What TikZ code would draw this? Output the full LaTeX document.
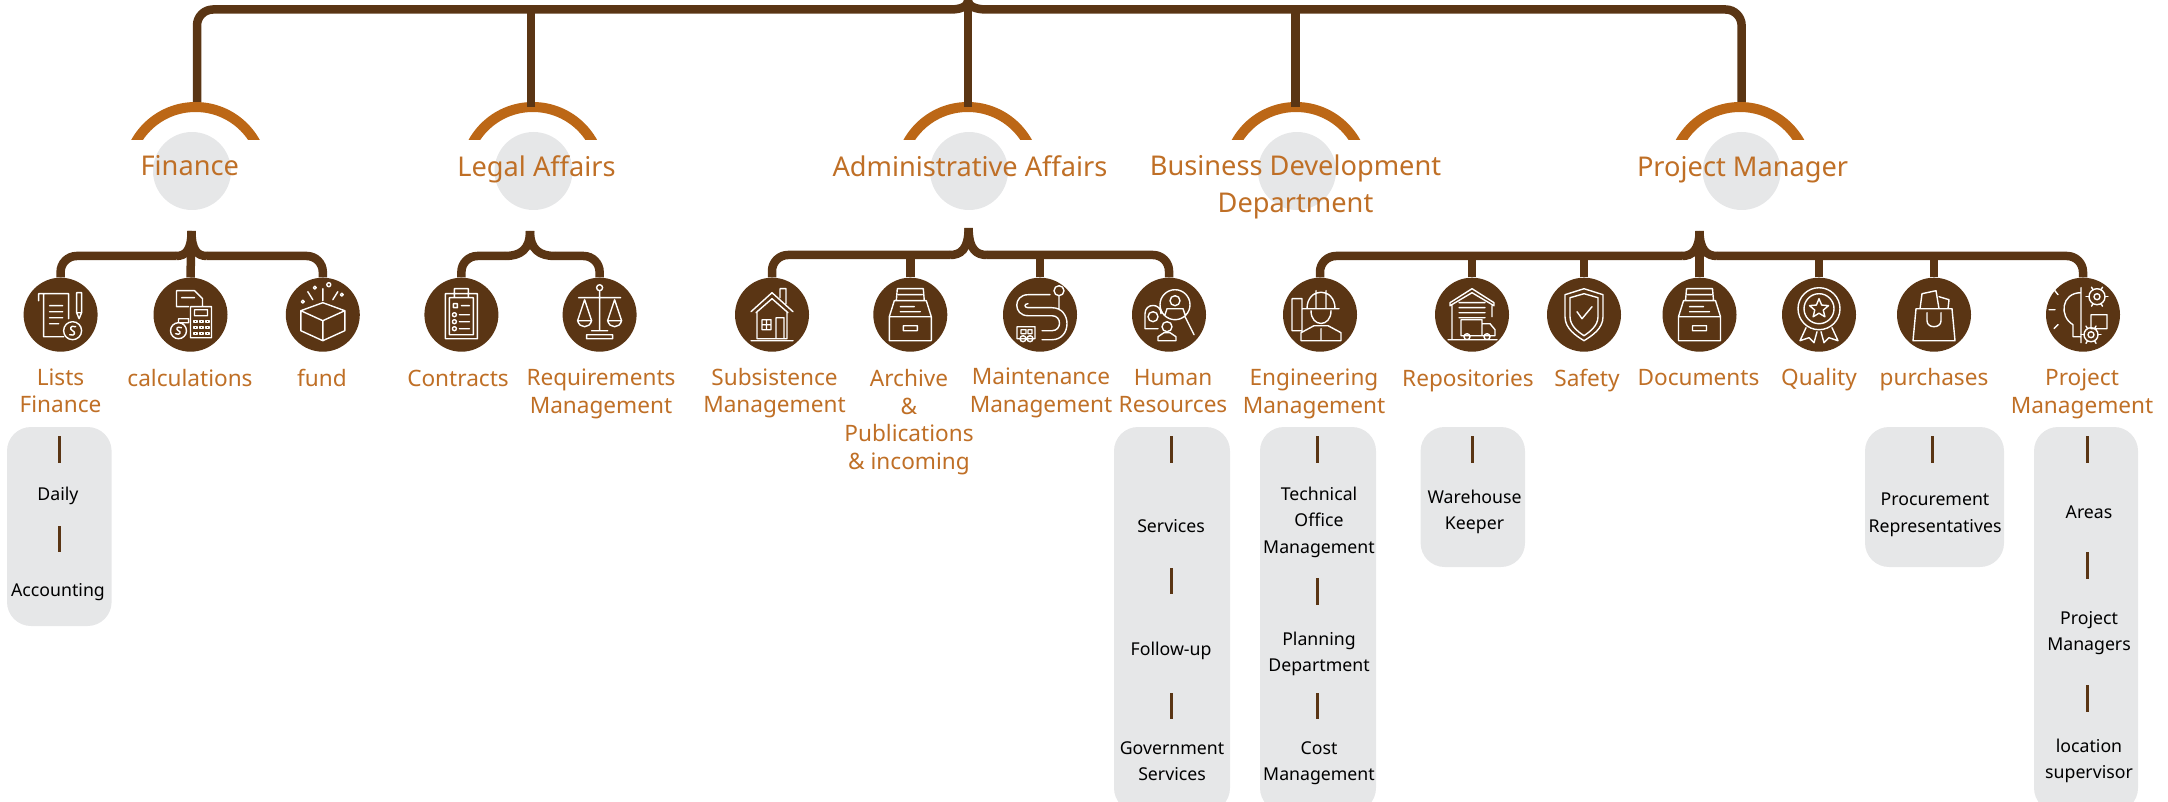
\documentclass[tikz,border=0pt]{standalone}
\usepackage{fontspec}
\setmainfont{Noto Sans}
\usetikzlibrary{calc}
\definecolor{barkbrown}{HTML}{5A3514}
\definecolor{capamber}{HTML}{BC6716}
\definecolor{labelamber}{HTML}{BF6F26}
\definecolor{panelgrey}{HTML}{E6E7E8}
\tikzset{
  bus/.style={draw=barkbrown,line width=8.5},
  tick/.style={draw=barkbrown,line width=3},
  head/.style={circle,fill=panelgrey,minimum size=78,inner sep=0},
  unit/.style={circle,fill=barkbrown,minimum size=74,inner sep=0},
  headlabel/.style={text=labelamber,align=center,inner sep=0,font=\fontsize{27.2}{37}\selectfont},
  unitlabel/.style={text=labelamber,align=center,inner sep=0,font=\fontsize{22.6}{27.5}\selectfont},
  itemlabel/.style={text=black,align=center,inner sep=0,font=\fontsize{17.7}{26.5}\selectfont},
  panel/.style={fill=panelgrey,rounded corners=24,inner sep=0},
  iconpen/.style={draw=white,line width=1.4,line join=round,line cap=round},
  capshape/.pic={\begin{scope}\clip (-75,-80) rectangle (75,-35.4);\draw[capamber,line width=10] (0,0) circle [radius=68.4];\end{scope}},
  iconscroll/.pic={\draw[iconpen] (-22,-14) -- (-22,-21) -- (8,-21) -- (8,4) (-17,-21) -- (-17,22) -- (3,22) (-11,-9) -- (2,-9) (-11,-3) -- (2,-3) (-11,3) -- (2,3) (-11,9) -- (-2,9) (12,16) circle [radius=9] (15,12) .. controls (9,10) and (9,15) .. (12,16) .. controls (15,17) and (15,22) .. (9,20) (16,-22) rectangle (21,-2) (16,-2) -- (18.5,4) -- (21,-2);},
  iconcalc/.pic={\draw[iconpen] (-2,-8) -- (-14,-8) -- (-14,-24) -- (4,-24) -- (12,-16) -- (12,-8) (-9,-17) -- (4,-17) (0,-8) rectangle (21,23) (4,-5) rectangle (17,1) (-12,16) circle [radius=8] (-9,13) .. controls (-14,11) and (-15,15) .. (-12,16) .. controls (-9,17) and (-10,21) .. (-15,19) (-12,4) rectangle (-2,8);\foreach \u in {5,11,17}{\foreach \v in {6,12,18}{\draw[iconpen] (\u-1.5,\v) rectangle (\u+1.5,\v+2);}}},
  iconbox/.pic={\draw[iconpen] (-22,-4) -- (0,6) -- (22,-4) -- (22,16) -- (0,26) -- (-22,16) -- cycle (0,6) -- (0,26) (-22,-4) -- (0,-12) -- (22,-4) (-10,-15) -- (-15,-23) (0,-14) -- (0,-26) (10,-15) -- (15,-23) (6,-30) circle [radius=2] (-8,-27) circle [radius=1.5] (-20,-13) circle [radius=1.5] (19,-20) circle [radius=1.5];},
  iconclip/.pic={\draw[iconpen] (-16,-21) rectangle (16,24) (-12,-17) rectangle (12,20) (-7,-26) rectangle (7,-17) (-8,-11) rectangle (-4,-7) (0,-9) -- (8,-9) (-7,0) circle [radius=2] (-2,0) -- (8,0) (-7,7) circle [radius=2] (-2,7) -- (8,7) (-7,14) circle [radius=2] (-2,14) -- (8,14);},
  iconscale/.pic={\draw[iconpen] (0,-24) -- (0,16) (0,-27) circle [radius=3] (-21,-17) -- (21,-17) (-15,-15) -- (-22,6) -- (-8,6) -- cycle (-22,6) .. controls (-20,14) and (-10,14) .. (-8,6) (15,-15) -- (8,6) -- (22,6) -- cycle (8,6) .. controls (10,14) and (20,14) .. (22,6) (-8,16) -- (8,16) (-13,20) rectangle (13,24);},
  iconhouse/.pic={\draw[iconpen] (-21,-3) -- (0,-22) -- (21,-3) (-16,-2) -- (0,-16) -- (16,-2) (-15,-3) -- (-15,24) -- (15,24) -- (15,-3) (-10,5) rectangle (-1,15) (-5.5,5) -- (-5.5,15) (-10,10) -- (-1,10) (4,3) rectangle (12,24) (8,-17) -- (8,-26) -- (14,-26) -- (14,-11) (-21,26) -- (21,26);},
  iconarchive/.pic={\draw[iconpen] (-21,2) rectangle (21,26) (-7,11) rectangle (7,16) (-21,2) -- (-16,-14) -- (16,-14) -- (21,2) (-14,-14) -- (-13,-26) -- (13,-26) -- (14,-14) (-12,-20) -- (12,-20) (-10,-8) -- (4,-8) (-10,-3) -- (10,-3);},
  iconroad/.pic={\draw[iconpen] (10,-20) -- (-12,-20) .. controls (-27,-20) and (-27,1) .. (-12,1) -- (12,1) .. controls (22,1) and (22,16) .. (12,16) -- (2,16) (-12,-11) .. controls (-16,-11) and (-16,-7) .. (-12,-7) -- (12,-7) .. controls (32,-7) and (32,25) .. (12,25) -- (2,25) (19,-24) circle [radius=5] (19,-19) -- (19,-5) (-23,12) rectangle (-5,24) (-17,24) circle [radius=3] (-10,24) circle [radius=3] (-19,15) rectangle (-14,19) (-12,15) rectangle (-8,19);},
  iconpeople/.pic={\draw[iconpen] (6,-10) circle [radius=15] (6,-14) circle [radius=5] (-4,0) -- (-2,-6) -- (14,-6) -- (16,0) (16,2) -- (25,20) (-16,2) circle [radius=5] (-24,14) -- (-24,-1) .. controls (-24,-12) and (-8,-12) .. (-8,-1) (-24,14) -- (-11,14) (-2,12) circle [radius=5] (-11,26) -- (-11,22) -- (-5,18) -- (1,18) -- (7,22) -- (7,26) -- cycle;},
  iconworker/.pic={\draw[iconpen] (-13,-6) .. controls (-13,-28) and (15,-28) .. (15,-6) (-17,-6) -- (19,-6) (-4,-24) -- (-4,-6) (6,-24) -- (6,-6) (-9,-4) .. controls (-9,13) and (11,13) .. (11,-4) (-19,26) -- (-19,18) -- (-6,11) -- (8,11) -- (21,18) -- (21,26) -- cycle (1,14) -- (1,26) (-28,-16) rectangle (-18,16);},
  iconstore/.pic={\draw[iconpen] (-22,-12) -- (0,-26) -- (22,-12) -- (22,-9) -- (0,-22) -- (-22,-9) -- cycle (-20,-9) -- (-20,24) (20,-9) -- (20,2) (-13,-12) -- (13,-12) (-13,-7) -- (13,-7) (-13,-2) -- (13,-2) (-13,3) -- (13,3) (-11,5) rectangle (10,21) (10,9) -- (18,9) -- (23,15) -- (23,21) -- (10,21) (-5,22) circle [radius=3] (15,22) circle [radius=3] (-24,25) -- (25,25);},
  iconshield/.pic={\draw[iconpen] (0,-26) -- (19,-20) -- (19,2) .. controls (19,14) and (8,21) .. (0,26) .. controls (-8,21) and (-19,14) .. (-19,2) -- (-19,-20) -- cycle (0,-21) -- (14,-17) -- (14,2) .. controls (14,11) and (6,17) .. (0,21) .. controls (-6,17) and (-14,11) .. (-14,2) -- (-14,-17) -- cycle (-7,-3) -- (-2,4) -- (8,-8);},
  iconbadge/.pic={\draw[iconpen] (0,-6) circle [radius=21] (0,-6) circle [radius=15] (-13,13) -- (-19,26) -- (-10,23) -- (-5,28) -- (-2,17) (13,13) -- (19,26) -- (10,23) -- (5,28) -- (2,17);\draw[iconpen,shift={(0,-6)}] (270:10) -- (306:4.5) -- (342:10) -- (18:4.5) -- (54:10) -- (90:4.5) -- (126:10) -- (162:4.5) -- (198:10) -- (234:4.5) -- cycle;},
  iconbag/.pic={\draw[iconpen] (-18,-6) -- (18,-6) -- (21,26) -- (-21,26) -- cycle (-7,-2) -- (-7,6) .. controls (-7,14) and (7,14) .. (7,6) -- (7,-2) (-14,-6) -- (-12,-21) -- (2,-24) -- (5,-6) (5,-18) -- (15,-15) -- (14,-6);},
  iconidea/.pic={\draw[iconpen] (-2,-27) -- (-2,28) (-2,-22) .. controls (-22,-22) and (-24,2) .. (-10,10) -- (-10,22) -- (-2,22) (-34,-5) -- (-28,-5) (-29,-25) -- (-25,-20) (-29,14) -- (-25,10) (14,-18) circle [radius=8] (14,-18) circle [radius=3] (8,20) circle [radius=7] (8,20) circle [radius=3] (8,0) rectangle (24,14);\foreach \a in {0,60,...,300}{\draw[iconpen] ($(14,-18)+(\a:8)$) -- ($(14,-18)+(\a:11)$) ($(8,20)+(\a:7)$) -- ($(8,20)+(\a:10)$);}}
}
\begin{document}
\begin{tikzpicture}[x=1pt,y=-1pt]
\useasboundingbox (0,0) rectangle (2168,802);
\coordinate (root) at (968,0);
\coordinate (rootl) at (950,9.5);
\coordinate (rootr) at (987,9.5);
\coordinate (stemfin) at (197,102);
\coordinate (stemleg) at (531,107);
\coordinate (stemadm) at (968,107);
\coordinate (stembiz) at (1295.5,107);
\coordinate (stempro) at (1741.6,102);
\coordinate (capfin) at (195.5,175.4);
\coordinate (capleg) at (532.8,175.4);
\coordinate (capadm) at (967.7,175.4);
\coordinate (capbiz) at (1296,175.4);
\coordinate (cappro) at (1740,175.4);
\node[head] (finance) at (192,171) {};
\node[head] (legal) at (533.5,171) {};
\node[head] (admin) at (969,171) {};
\node[head] (business) at (1297,171) {};
\node[head] (project) at (1741.7,171) {};
\pic at (capfin) {capshape};
\pic at (capleg) {capshape};
\pic at (capadm) {capshape};
\pic at (capbiz) {capshape};
\pic at (cappro) {capshape};
\draw[bus,rounded corners=16] (stemfin) |- (rootl);
\draw[bus,rounded corners=16] (stempro) |- (rootr);
\draw[bus] (rootl) .. controls (960,9.5) and (968,7) .. (root);
\draw[bus] (rootr) .. controls (977,9.5) and (968,7) .. (root);
\draw[bus] (stemleg) -- (531,9.5);
\draw[bus] (stemadm) -- (root);
\draw[bus] (stembiz) -- (1295.5,9.5);
\coordinate (fintop) at (191.5,231);
\coordinate (legtop) at (530,231);
\coordinate (admtop) at (968.6,228);
\coordinate (protop) at (1699.5,231);
\node[unit] (lists) at (60.6,314.7) {};
\node[unit] (calculations) at (190.5,314.7) {};
\node[unit] (fund) at (322.8,314.7) {};
\node[unit] (contracts) at (461.4,314.7) {};
\node[unit] (requirements) at (599.6,314.7) {};
\node[unit] (subsistence) at (772,314.7) {};
\node[unit] (archive) at (910.3,314.7) {};
\node[unit] (maintenance) at (1040,314.7) {};
\node[unit] (human) at (1169,314.7) {};
\node[unit] (engineering) at (1320,314.7) {};
\node[unit] (repositories) at (1472,314.7) {};
\node[unit] (safety) at (1584,314.7) {};
\node[unit] (documents) at (1699.5,314.7) {};
\node[unit] (quality) at (1819,314.7) {};
\node[unit] (purchases) at (1934,314.7) {};
\node[unit] (management) at (2083,314.7) {};
\draw[bus,rounded corners=16] (lists.north) |- (176,256);
\draw[bus] (176,256) .. controls (186,256) and (191.5,250) .. (fintop);
\draw[bus,rounded corners=16] (fund.north) |- (207,256);
\draw[bus] (207,256) .. controls (197,256) and (191.5,250) .. (fintop);
\draw[bus] (calculations.north) -- (fintop);
\draw[bus,rounded corners=16] (contracts.north) |- (505,256);
\draw[bus] (505,256) .. controls (520,256) and (530,250) .. (legtop);
\draw[bus,rounded corners=16] (requirements.north) |- (555,256);
\draw[bus] (555,256) .. controls (540,256) and (530,250) .. (legtop);
\draw[bus,rounded corners=16] (subsistence.north) |- (950,255);
\draw[bus] (950,255) .. controls (960,255) and (968.6,250) .. (admtop);
\draw[bus,rounded corners=16] (human.north) |- (987,255);
\draw[bus] (987,255) .. controls (977,255) and (968.6,250) .. (admtop);
\draw[bus] (archive.north) -- (910.3,255);
\draw[bus] (maintenance.north) -- (1040,255);
\draw[bus,rounded corners=16] (engineering.north) |- (1682,256);
\draw[bus] (1682,256) .. controls (1692,256) and (1699.5,250) .. (protop);
\draw[bus,rounded corners=16] (management.north) |- (1717,256);
\draw[bus] (1717,256) .. controls (1707,256) and (1699.5,250) .. (protop);
\draw[bus] (documents.north) -- (protop);
\draw[bus] (repositories.north) -- (1472,256);
\draw[bus] (safety.north) -- (1584,256);
\draw[bus] (quality.north) -- (1819,256);
\draw[bus] (purchases.north) -- (1934,256);
\pic at (lists) {iconscroll};
\pic at (calculations) {iconcalc};
\pic at (fund) {iconbox};
\pic at (contracts) {iconclip};
\pic at (requirements) {iconscale};
\pic at (subsistence) {iconhouse};
\pic at (archive) {iconarchive};
\pic at (maintenance) {iconroad};
\pic at (human) {iconpeople};
\pic at (engineering) {iconworker};
\pic at (repositories) {iconstore};
\pic at (safety) {iconshield};
\pic at (documents) {iconarchive};
\pic at (quality) {iconbadge};
\pic at (purchases) {iconbag};
\pic at (management) {iconidea};
\node[headlabel] (financetext) at (189.8,166) {Finance};
\node[headlabel] (legaltext) at (536.5,169) {Legal Affairs};
\node[headlabel] (admintext) at (970,166) {Administrative Affairs};
\node[headlabel] (businesstext) at (1295.5,186.5) {Business Development\\Department};
\node[headlabel] (projecttext) at (1742.6,170) {Project Manager};
\node[unitlabel] (liststext) at (60.5,391) {Lists\\Finance};
\node[unitlabel] (calctext) at (190,378) {calculations};
\node[unitlabel] (fundtext) at (322,378) {fund};
\node[unitlabel] (contractstext) at (458,378) {Contracts};
\node[unitlabel] (requiretext) at (601,394) {Requirements\\Management};
\node[unitlabel] (subsisttext) at (774.5,393) {Subsistence\\Management};
\node[unitlabel] (archivetext) at (909,422) {Archive\\\&\\Publications\\\& incoming};
\node[unitlabel] (maintaintext) at (1041,393) {Maintenance\\Management};
\node[unitlabel] (humantext) at (1173,391) {Human\\Resources};
\node[unitlabel] (engineertext) at (1314,394) {Engineering\\Management};
\node[unitlabel] (repotext) at (1468,381) {Repositories};
\node[unitlabel] (safetytext) at (1587,381) {Safety};
\node[unitlabel] (docstext) at (1698.5,378) {Documents};
\node[unitlabel] (qualitytext) at (1819,380) {Quality};
\node[unitlabel] (purchasetext) at (1934,380) {purchases};
\node[unitlabel] (managetext) at (2082,394) {Project\\Management};
\node[panel,minimum width=104.6,minimum height=199] (listspanel) at (59.3,526.5) {};
\node[panel,minimum width=116,minimum height=385] (humanpanel) at (1172,619.5) {};
\node[panel,minimum width=116,minimum height=385] (engpanel) at (1318,619.5) {};
\node[panel,minimum width=104.4,minimum height=140] (repopanel) at (1472.8,497) {};
\node[panel,minimum width=139,minimum height=140] (buypanel) at (1934.5,497) {};
\node[panel,minimum width=104,minimum height=385] (propanel) at (2086,619.5) {};
\node[itemlabel] (daily) at (58,496) {Daily};
\node[itemlabel] (accounting) at (58,592) {Accounting};
\node[itemlabel] (services) at (1171,526) {Services};
\node[itemlabel] (followup) at (1171,651) {Follow-up};
\node[itemlabel] (government) at (1172,761) {Government\\Services};
\node[itemlabel] (technical) at (1319,522) {Technical\\Office\\Management};
\node[itemlabel] (planning) at (1319,654) {Planning\\Department};
\node[itemlabel] (cost) at (1319,763) {Cost\\Management};
\node[itemlabel] (warehouse) at (1474.5,512) {Warehouse\\Keeper};
\node[itemlabel] (procurement) at (1935,515) {Procurement\\Representatives};
\node[itemlabel] (areas) at (2089,512) {Areas};
\node[itemlabel] (managers) at (2089,633) {Project\\Managers};
\node[itemlabel] (supervisor) at (2089,761) {location\\supervisor};
\coordinate (tlista) at (59,436);
\coordinate (tlistb) at (59,463);
\coordinate (tlistc) at (59,526);
\coordinate (tlistd) at (59,552);
\coordinate (thuma) at (1171,436);
\coordinate (thumb) at (1171,463);
\coordinate (thumc) at (1171,568);
\coordinate (thumd) at (1171,594);
\coordinate (thume) at (1171,693);
\coordinate (thumf) at (1171,719);
\coordinate (tenga) at (1317,436);
\coordinate (tengb) at (1317,463);
\coordinate (tengc) at (1317,578);
\coordinate (tengd) at (1317,605);
\coordinate (tenge) at (1317,693);
\coordinate (tengf) at (1317,719);
\coordinate (trepa) at (1472.5,436);
\coordinate (trepb) at (1472.5,463);
\coordinate (tbuya) at (1932,436);
\coordinate (tbuyb) at (1932,463);
\coordinate (tproa) at (2087,436);
\coordinate (tprob) at (2087,463);
\coordinate (tproc) at (2087,552);
\coordinate (tprod) at (2087,579);
\coordinate (tproe) at (2087,685);
\coordinate (tprof) at (2087,712);
\draw[tick] (tlista) -- (tlistb);
\draw[tick] (tlistc) -- (tlistd);
\draw[tick] (thuma) -- (thumb);
\draw[tick] (thumc) -- (thumd);
\draw[tick] (thume) -- (thumf);
\draw[tick] (tenga) -- (tengb);
\draw[tick] (tengc) -- (tengd);
\draw[tick] (tenge) -- (tengf);
\draw[tick] (trepa) -- (trepb);
\draw[tick] (tbuya) -- (tbuyb);
\draw[tick] (tproa) -- (tprob);
\draw[tick] (tproc) -- (tprod);
\draw[tick] (tproe) -- (tprof);
\end{tikzpicture}
\end{document}
